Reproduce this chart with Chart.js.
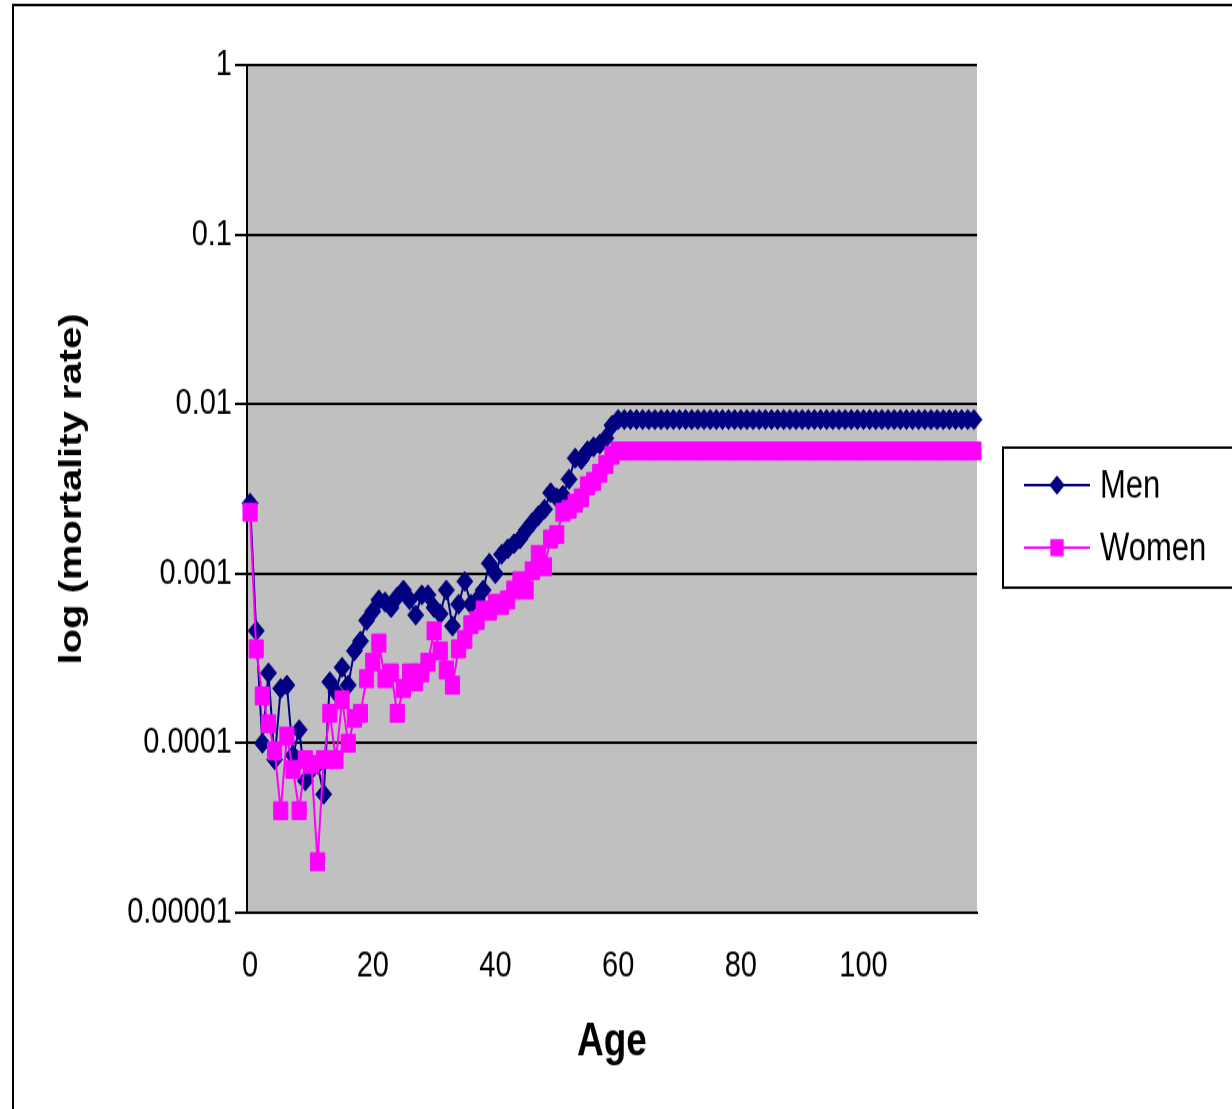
<!DOCTYPE html>
<html>
<head>
<meta charset="utf-8">
<title>Mortality rate by age</title>
<script src="https://cdn.jsdelivr.net/npm/chart.js@4/dist/chart.umd.min.js"></script>
<style>
  html, body { margin: 0; padding: 0; background: #fff; overflow: hidden; }
</style>
</head>
<body>
<!-- the original picture is stretched vertically, so the canvas is drawn short and shown tall -->
<canvas id="chart" width="1232" height="887" style="display:block;width:1232px;height:1109px"></canvas>
<script>
const ages = [
  0, 1, 2, 3, 4, 5, 6, 7, 8, 9, 10, 11, 12, 13, 14, 15, 16, 17, 18, 19,
  20, 21, 22, 23, 24, 25, 26, 27, 28, 29, 30, 31, 32, 33, 34, 35, 36, 37, 38, 39,
  40, 41, 42, 43, 44, 45, 46, 47, 48, 49, 50, 51, 52, 53, 54, 55, 56, 57, 58, 59,
  60, 61, 62, 63, 64, 65, 66, 67, 68, 69, 70, 71, 72, 73, 74, 75, 76, 77, 78, 79,
  80, 81, 82, 83, 84, 85, 86, 87, 88, 89, 90, 91, 92, 93, 94, 95, 96, 97, 98, 99,
  100, 101, 102, 103, 104, 105, 106, 107, 108, 109, 110, 111, 112, 113, 114, 115, 116, 117, 118,
];

const menRates = [
  0.0026, 0.00046, 0.0001, 0.00026, 0.00008, 0.00021, 0.00022, 0.000085, 0.00012, 0.00006,
  0.00007, 0.000075, 0.00005, 0.00023, 0.0002, 0.00028, 0.00022, 0.00035, 0.0004, 0.00053,
  0.0006, 0.0007, 0.00068, 0.00063, 0.00073, 0.0008, 0.0007, 0.00057, 0.00075, 0.00075,
  0.00063, 0.00058, 0.0008, 0.00049, 0.00066, 0.0009, 0.00066, 0.0007, 0.0008, 0.00115,
  0.001, 0.0013, 0.0014, 0.0015, 0.0016, 0.0018, 0.002, 0.0022, 0.0024, 0.003,
  0.0028, 0.0029, 0.0036, 0.0048, 0.0047, 0.0053, 0.0056, 0.0058, 0.0063, 0.0075,
  0.0081, 0.0081, 0.0081, 0.0081, 0.0081, 0.0081, 0.0081, 0.0081, 0.0081, 0.0081,
  0.0081, 0.0081, 0.0081, 0.0081, 0.0081, 0.0081, 0.0081, 0.0081, 0.0081, 0.0081,
  0.0081, 0.0081, 0.0081, 0.0081, 0.0081, 0.0081, 0.0081, 0.0081, 0.0081, 0.0081,
  0.0081, 0.0081, 0.0081, 0.0081, 0.0081, 0.0081, 0.0081, 0.0081, 0.0081, 0.0081,
  0.0081, 0.0081, 0.0081, 0.0081, 0.0081, 0.0081, 0.0081, 0.0081, 0.0081, 0.0081,
  0.0081, 0.0081, 0.0081, 0.0081, 0.0081, 0.0081, 0.0081, 0.0081, 0.0081,
];

const womenRates = [
  0.0023, 0.00036, 0.00019, 0.00013, 0.00009, 0.00004, 0.00011, 0.00007, 0.00004, 0.00008,
  0.000075, 0.00002, 0.00008, 0.00015, 0.00008, 0.00018, 0.0001, 0.00014, 0.00015, 0.00024,
  0.0003, 0.00039, 0.00024, 0.00026, 0.00015, 0.00021, 0.00026, 0.00023, 0.00026, 0.0003,
  0.00046, 0.00035, 0.00027, 0.00022, 0.00036, 0.00041, 0.0005, 0.00053, 0.00061, 0.0006,
  0.00067, 0.00065, 0.0007, 0.0008, 0.00091, 0.0008, 0.00104, 0.0013, 0.0011, 0.0016,
  0.0017, 0.0023, 0.0024, 0.0026, 0.0028, 0.0033, 0.0035, 0.0039, 0.0044, 0.005,
  0.0053, 0.0053, 0.0053, 0.0053, 0.0053, 0.0053, 0.0053, 0.0053, 0.0053, 0.0053,
  0.0053, 0.0053, 0.0053, 0.0053, 0.0053, 0.0053, 0.0053, 0.0053, 0.0053, 0.0053,
  0.0053, 0.0053, 0.0053, 0.0053, 0.0053, 0.0053, 0.0053, 0.0053, 0.0053, 0.0053,
  0.0053, 0.0053, 0.0053, 0.0053, 0.0053, 0.0053, 0.0053, 0.0053, 0.0053, 0.0053,
  0.0053, 0.0053, 0.0053, 0.0053, 0.0053, 0.0053, 0.0053, 0.0053, 0.0053, 0.0053,
  0.0053, 0.0053, 0.0053, 0.0053, 0.0053, 0.0053, 0.0053, 0.0053, 0.0053,
];

const xTickLabels = ['0', '20', '40', '60', '80', '100'];
const yTickValues = [0.00001, 0.0001, 0.001, 0.01, 0.1, 1];
const yTickLabels = ['0.00001', '0.0001', '0.001', '0.01', '0.1', '1'];

const FONT = "'Liberation Sans', Arial, sans-serif";
const CANVAS_H = 887;
const PLOT_LEFT = 247;
const PLOT_RIGHT = 977;
const PLOT_TOP = 52;
const PLOT_BOTTOM = 730;

// white page, grey plot area, outer frame
const backgroundPlugin = {
  id: 'excelBackground',
  beforeDraw(chart) {
    const { ctx, chartArea } = chart;
    ctx.save();
    ctx.fillStyle = '#ffffff';
    ctx.fillRect(0, 0, chart.width, chart.height);
    ctx.fillStyle = '#c0c0c0';
    ctx.fillRect(chartArea.left, chartArea.top, chartArea.right - chartArea.left, chartArea.bottom - chartArea.top);
    ctx.restore();
  },
  afterDraw(chart) {
    const { ctx } = chart;
    ctx.save();
    ctx.strokeStyle = '#000000';
    ctx.lineWidth = 2;
    ctx.strokeRect(13, 4, 1400, 1000);
    ctx.restore();
  },
};

// boxed legend to the right of the plot, clipped by the page edge
const legendPlugin = {
  id: 'boxLegend',
  afterDraw(chart) {
    const { ctx } = chart;
    ctx.save();
    ctx.fillStyle = '#ffffff';
    ctx.fillRect(1003, 358, 300, 112);
    ctx.strokeStyle = '#000000';
    ctx.lineWidth = 2;
    ctx.strokeRect(1003, 358, 300, 112);

    const rows = [388, 438];
    chart.data.datasets.forEach((ds, i) => {
      const y = rows[i];
      ctx.strokeStyle = ds.borderColor;
      ctx.lineWidth = 2;
      ctx.beginPath();
      ctx.moveTo(1024, y);
      ctx.lineTo(1090, y);
      ctx.stroke();
      ctx.fillStyle = ds.pointBackgroundColor;
      Chart.helpers.drawPoint(ctx, {
        pointStyle: ds.pointStyle,
        radius: ds.pointRadius * 0.8,
        rotation: 0,
        borderWidth: 1,
      }, 1057, y);
      ctx.fillStyle = '#000000';
      ctx.font = `31px ${FONT}`;
      ctx.textBaseline = 'middle';
      ctx.textAlign = 'left';
      ctx.fillText(ds.label, 1100, y + 1);
    });
    ctx.restore();
  },
};

const ctx = document.getElementById('chart').getContext('2d');

new Chart(ctx, {
  type: 'line',
  data: {
    labels: ages,
    datasets: [
      {
        label: 'Men',
        data: menRates,
        borderColor: '#000080',
        backgroundColor: '#000080',
        pointBackgroundColor: '#000080',
        pointBorderColor: '#000080',
        pointStyle: 'rectRot',
        pointRadius: 8,
        pointBorderWidth: 1,
        borderWidth: 2,
        tension: 0,
        order: 1,
      },
      {
        label: 'Women',
        data: womenRates,
        borderColor: '#ff00ff',
        backgroundColor: '#ff00ff',
        pointBackgroundColor: '#ff00ff',
        pointBorderColor: '#ff00ff',
        pointStyle: 'rect',
        pointRadius: 10,
        pointBorderWidth: 1,
        borderWidth: 2,
        tension: 0,
        order: 0,
      },
    ],
  },
  options: {
    responsive: false,
    animation: false,
    layout: {
      padding: { top: PLOT_TOP, right: 1232 - PLOT_RIGHT, left: 0, bottom: 0 },
    },
    plugins: {
      legend: { display: false },
      tooltip: { enabled: false },
    },
    scales: {
      x: {
        type: 'category',
        offset: true,
        grid: { display: false, drawTicks: false },
        border: { display: true, color: '#000000', width: 2 },
        ticks: {
          autoSkip: false,
          maxRotation: 0,
          minRotation: 0,
          padding: 26,
          color: '#000000',
          font: { family: FONT, size: 29 },
          callback(value, index) {
            const label = String(ages[index]);
            return xTickLabels.includes(label) ? label : '';
          },
        },
        title: {
          display: true,
          text: 'Age',
          color: '#000000',
          font: { family: FONT, size: 37, weight: 'bold' },
          padding: { top: 0, bottom: 31 },
        },
        afterFit(scale) {
          scale.height = CANVAS_H - PLOT_BOTTOM;
        },
      },
      y: {
        type: 'logarithmic',
        min: 0.00001,
        max: 1,
        grid: {
          color: '#000000',
          lineWidth: 2,
          drawTicks: true,
          tickLength: 12,
          tickColor: '#000000',
          tickWidth: 2,
        },
        border: { display: true, color: '#000000', width: 2 },
        ticks: {
          padding: 3,
          color: '#000000',
          font: { family: FONT, size: 29 },
          callback(value) {
            const i = yTickValues.indexOf(value);
            return i >= 0 ? yTickLabels[i] : '';
          },
        },
        afterBuildTicks(scale) {
          scale.ticks = yTickValues.map((v) => ({ value: v }));
        },
        title: {
          display: true,
          text: 'log (mortality rate)',
          color: '#000000',
          font: { family: FONT, size: 32, weight: 'bold' },
          padding: { top: 53, bottom: 0 },
        },
        afterFit(scale) {
          scale.width = PLOT_LEFT;
        },
      },
    },
  },
  plugins: [backgroundPlugin, legendPlugin],
});
</script>
</body>
</html>
